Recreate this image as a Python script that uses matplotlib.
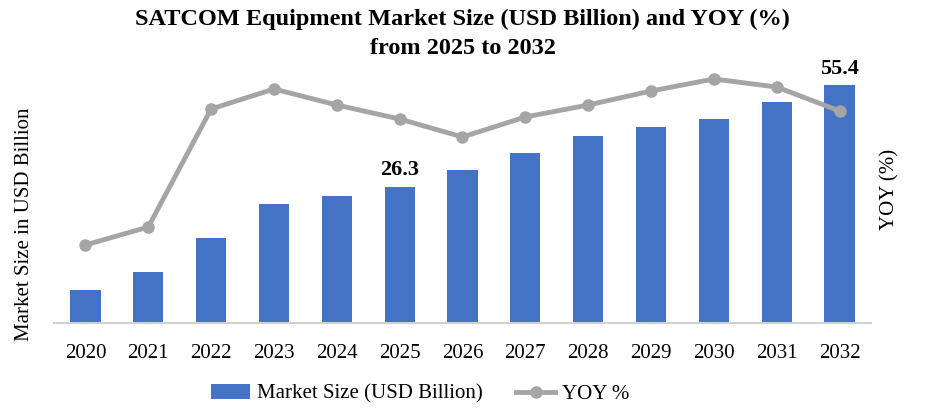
import matplotlib.pyplot as plt
import numpy as np

plt.rcParams['font.family'] = ['Liberation Serif', 'DejaVu Serif']

years = ['2020', '2021', '2022', '2023', '2024', '2025', '2026',
         '2027', '2028', '2029', '2030', '2031', '2032']
market_size = [7.7, 11.9, 19.8, 27.7, 29.6, 31.7, 35.6,
               39.6, 43.5, 45.6, 47.5, 51.4, 55.4]
yoy = [3.9, 4.8, 10.7, 11.7, 10.9, 10.2, 9.3,
       10.3, 10.9, 11.6, 12.2, 11.8, 10.6]
# labels shown above two of the bars in the reference
bar_labels = {'2025': '26.3', '2032': '55.4'}

fig = plt.figure(figsize=(9.25, 4.11), dpi=100)
ax = fig.add_axes([54 / 925, 1 - 323 / 411, 817 / 925, 268 / 411])

x = np.arange(len(years))
ax.bar(x, market_size, width=0.48, color='#4472C4', label='Market Size (USD Billion)', zorder=2)
ax.set_xlim(-0.5, len(years) - 0.5)
ax.set_ylim(0, 268 * 0.2328)
ax.set_xticks(x)
ax.set_xticklabels(years, fontsize=15)
ax.tick_params(axis='x', length=0, pad=15)
ax.set_yticks([])
for side in ['top', 'right', 'left']:
    ax.spines[side].set_visible(False)
ax.spines['bottom'].set_color('#d0d0d0')
ax.spines['bottom'].set_linewidth(1.5)
ax.set_ylabel('Market Size in USD Billion', fontsize=15)
ax.yaxis.set_label_coords(-0.025, 0.37)

for i, yr in enumerate(years):
    if yr in bar_labels:
        ax.text(i, market_size[i] + 1.5, bar_labels[yr], ha='center', va='bottom',
                fontsize=16, fontweight='bold')

ax2 = ax.twinx()
ax2.plot(x, yoy, color='#a5a5a5', linewidth=3.5, marker='o', markersize=8,
         label='YOY %', zorder=3)
ax2.set_ylim(0, 268 / 20)
ax2.set_yticks([])
for side in ['top', 'right', 'left', 'bottom']:
    ax2.spines[side].set_visible(False)
ax2.set_ylabel('YOY (%)', fontsize=15, labelpad=7)

fig.suptitle('SATCOM Equipment Market Size (USD Billion) and YOY (%)\nfrom 2025 to 2032',
             fontsize=17.5, fontweight='bold', y=0.978, linespacing=1.5)

h1, l1 = ax.get_legend_handles_labels()
h2, l2 = ax2.get_legend_handles_labels()
fig.legend(h1 + h2, l1 + l2, loc='center', bbox_to_anchor=(0.454, 1 - 394 / 411),
           ncol=2, frameon=False, fontsize=15, columnspacing=1.6, handlelength=1.9,
           handletextpad=0.3)

plt.savefig('out.png', dpi=100)
